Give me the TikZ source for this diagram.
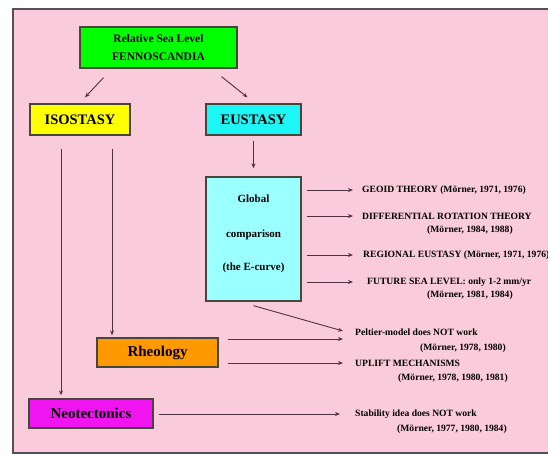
\documentclass[tikz,border=0pt]{standalone}
\usepackage{fontspec}
\setmainfont{Liberation Serif}
\usetikzlibrary{arrows.meta,calc}
\definecolor{bgpink}{RGB}{250,203,218}
\definecolor{framec}{RGB}{85,80,85}
\definecolor{lnc}{RGB}{80,50,65}
\definecolor{boxline}{RGB}{70,70,60}
\definecolor{cgreen}{RGB}{0,255,0}
\definecolor{cyellow}{RGB}{255,255,0}
\definecolor{ccyan}{RGB}{30,245,245}
\definecolor{clcyan}{RGB}{155,255,255}
\definecolor{corange}{RGB}{255,153,0}
\definecolor{cmagenta}{RGB}{240,20,240}
\begin{document}
\begin{tikzpicture}[x=1pt,y=-1pt,
  box/.style={draw=boxline, line width=1.3pt, inner sep=0pt, text=black},
  boxfont/.style={font=\bfseries\fontsize{14.5}{16}\selectfont},
  txt/.style={inner sep=0pt, anchor=west, text=black, font=\bfseries\fontsize{9.6}{11}\selectfont},
  arr/.style={draw=lnc, line width=0.9pt, -{Stealth[length=5pt,width=4pt]}}]
\useasboundingbox (0,0) rectangle (548,456);
\fill[white] (0,0) rectangle (548,456);
\fill[bgpink] (13,9) rectangle (548,453);
\draw[draw=framec, line width=1.5pt] (548,9) -- (13,9) -- (13,453) -- (548,453);

\node[box, fill=cgreen, minimum width=157pt, minimum height=41pt, align=center,
      font=\bfseries\fontsize{11.5}{18}\selectfont] (rsl) at (158.5,47.5) {Relative Sea Level\\FENNOSCANDIA};
\node[box, boxfont, fill=cyellow, minimum width=100pt, minimum height=31pt] (iso) at (80,119.5) {ISOSTASY};
\node[box, boxfont, fill=ccyan, minimum width=95pt, minimum height=31pt] (eus) at (253.5,119.5) {EUSTASY};
\node[box, fill=clcyan, minimum width=95pt, minimum height=124pt] (glob) at (253.5,239) {};
\node[inner sep=0pt, align=center, font=\bfseries\fontsize{11}{13}\selectfont] (globtxt) at (253.5,234)
  {Global\\[22pt]comparison\\[20pt](the E-curve)};
\node[box, fill=corange, minimum width=121pt, minimum height=29pt, font=\bfseries\fontsize{15}{16}\selectfont] (rheo) at (157.5,352.5) {Rheology};
\node[box, fill=cmagenta, minimum width=124pt, minimum height=29pt, font=\bfseries\fontsize{15}{16}\selectfont] (neo) at (91,413.5) {Neotectonics};

\node[txt] (t1) at (362,190) {GEOID THEORY (Mörner, 1971, 1976)};
\node[txt] (t2) at (362,216) {DIFFERENTIAL ROTATION THEORY};
\node[txt] (t2b) at (427,230) {(Mörner, 1984, 1988)};
\node[txt] (t3) at (363,255) {REGIONAL EUSTASY (Mörner, 1971, 1976)};
\node[txt] (t4) at (367,282) {FUTURE SEA LEVEL: only 1-2 mm/yr};
\node[txt] (t4b) at (427,295) {(Mörner, 1981, 1984)};
\node[txt] (t5) at (355,332) {Peltier-model does NOT work};
\node[txt] (t5b) at (420,348) {(Mörner, 1978, 1980)};
\node[txt] (t6) at (355,363) {UPLIFT MECHANISMS};
\node[txt] (t6b) at (398,378) {(Mörner, 1978, 1980, 1981)};
\node[txt] (t7) at (355,414) {Stability idea does NOT work};
\node[txt] (t7b) at (397,429) {(Mörner, 1977, 1980, 1984)};

\draw[arr] ($(rsl.south)+(-55,9)$) -- ($(iso.north)+(5,-6)$);
\draw[arr] ($(rsl.south)+(63,8)$) -- ($(eus.north)+(-6,-6)$);
\draw[arr] ($(eus.south)+(0,5)$) -- ($(glob.north)+(0,-8)$);
\draw[arr] ($(iso.south)+(-19,13)$) -- ($(neo.north -| iso.south)+(-19,-3)$);
\draw[arr] ($(iso.south)+(32,13)$) -- ($(rheo.north -| iso.south)+(32,-2)$);

\draw[arr] ($(glob.east |- t1.west)+(5,0)$) -- ($(t1.west)+(-9,0)$);
\draw[arr] ($(glob.east |- t2.west)+(5,0)$) -- ($(t2.west)+(-9,0)$);
\draw[arr] ($(glob.east |- t3.west)+(5,0)$) -- ($(t3.west)+(-10,0)$);
\draw[arr] ($(glob.east |- t4.west)+(5,0)$) -- ($(t4.west)+(-14,0)$);

\draw[arr] ($(glob.south)+(0,4)$) -- ($(t5.west)+(-12,-1)$);
\draw[arr] ($(rheo.east |- t5.west)+(9,7)$) -- ($(t5.west)+(-12,7)$);
\draw[arr] ($(rheo.east |- t6.west)+(9,0)$) -- ($(t6.west)+(-12,0)$);
\draw[arr] ($(neo.east |- t7.west)+(5,0)$) -- ($(t7.west)+(-15,0)$);
\end{tikzpicture}
\end{document}
